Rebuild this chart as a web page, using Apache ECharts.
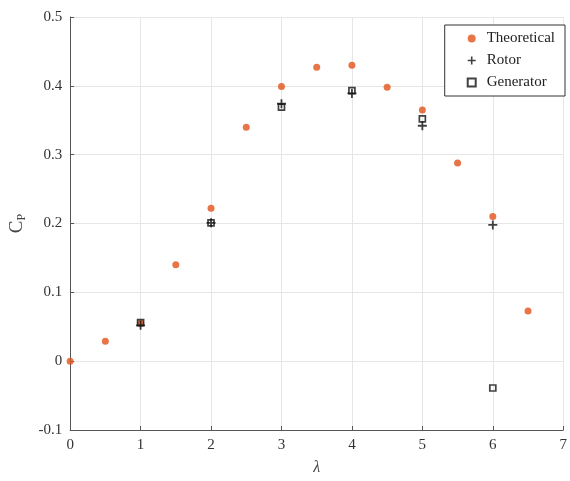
<!DOCTYPE html>
<html>
<head>
<meta charset="utf-8">
<script src="https://cdn.jsdelivr.net/npm/echarts@6/dist/echarts.min.js"></script>
<style>
  html, body { margin: 0; padding: 0; background: #fff; }
  #chart { width: 570px; height: 481px; }
</style>
</head>
<body>
<div id="chart"></div>
<script>
// 数据
const theoLambda = [0, 0.5, 1, 1.5, 2, 2.5, 3, 3.5, 4, 4.5, 5, 5.5, 6, 6.5];
const theoCp = [0, 0.029, 0.055, 0.140, 0.222, 0.340, 0.399, 0.427, 0.430, 0.398, 0.365, 0.288, 0.210, 0.073];
const measLambda = [1, 2, 3, 4, 5, 6];
const rotorCp = [0.052, 0.201, 0.374, 0.389, 0.342, 0.198];
const generatorCp = [0.056, 0.201, 0.369, 0.393, 0.352, -0.039];

const pair = (xs, ys) => xs.map((x, i) => [x, ys[i]]);
const plusPath = 'path://M4,0H6V4H10V6H6V10H4V6H0V4H4Z';
const fontFam = '"Liberation Serif", "DejaVu Serif", serif';

const chart = echarts.init(document.getElementById('chart'));

const option = {
  animation: false,
  textStyle: { fontFamily: fontFam },
  grid: { left: 69, right: 4, top: 17, bottom: 51 },
  legend: {
    orient: 'vertical',
    right: 5,
    top: 25,
    itemGap: 7,
    itemWidth: 8,
    itemHeight: 8,
    padding: [6, 10, 6, 22],
    borderColor: '#333',
    borderWidth: 1,
    backgroundColor: '#fff',
    textStyle: { fontFamily: fontFam, fontSize: 15, color: '#222', padding: [0, 0, 0, 6] },
    data: [
      { name: 'Theoretical', icon: 'circle' },
      { name: 'Rotor', icon: plusPath },
      { name: 'Generator', icon: 'rect' }
    ]
  },
  xAxis: {
    type: 'value',
    min: 0,
    max: 7,
    interval: 1,
    name: 'λ',
    nameLocation: 'middle',
    nameGap: 30,
    nameTextStyle: { fontFamily: fontFam, fontSize: 16, fontStyle: 'italic', color: '#444' },
    axisLine: { show: true, onZero: false, lineStyle: { color: '#555' } },
    axisTick: { show: true, inside: true, length: 4, lineStyle: { color: '#555' } },
    axisLabel: { fontFamily: fontFam, fontSize: 15, color: '#333', margin: 8 },
    splitLine: { show: true, lineStyle: { color: '#e6e6e6' } }
  },
  yAxis: {
    type: 'value',
    min: -0.1,
    max: 0.5,
    interval: 0.1,
    name: '{c|C}{p|P}',
    nameLocation: 'middle',
    nameGap: 42,
    nameTextStyle: {
      rich: {
        c: { fontFamily: fontFam, fontSize: 19, color: '#444' },
        p: { fontFamily: fontFam, fontSize: 12, color: '#444', verticalAlign: 'bottom', padding: [8, 0, 0, 0] }
      }
    },
    axisLine: { show: true, lineStyle: { color: '#555' } },
    axisTick: { show: true, inside: true, length: 4, lineStyle: { color: '#555' } },
    axisLabel: {
      fontFamily: fontFam, fontSize: 15, color: '#333', margin: 8,
      formatter: v => String(Math.round(v * 10) / 10)
    },
    splitLine: { show: true, lineStyle: { color: '#e6e6e6' } }
  },
  series: [
    {
      name: 'Theoretical',
      type: 'scatter',
      symbol: 'circle',
      symbolSize: 7,
      itemStyle: { color: '#e2531a' },
      data: pair(theoLambda, theoCp),
      z: 2
    },
    {
      name: 'Rotor',
      type: 'scatter',
      symbol: plusPath,
      symbolSize: 9,
      itemStyle: { color: '#111' },
      data: pair(measLambda, rotorCp),
      z: 3
    },
    {
      name: 'Generator',
      type: 'scatter',
      symbol: 'rect',
      symbolSize: 6,
      itemStyle: { color: 'rgba(255,255,255,0)', borderColor: '#111', borderWidth: 1.7 },
      data: pair(measLambda, generatorCp),
      z: 4
    }
  ]
};

chart.setOption(option);
</script>
</body>
</html>
